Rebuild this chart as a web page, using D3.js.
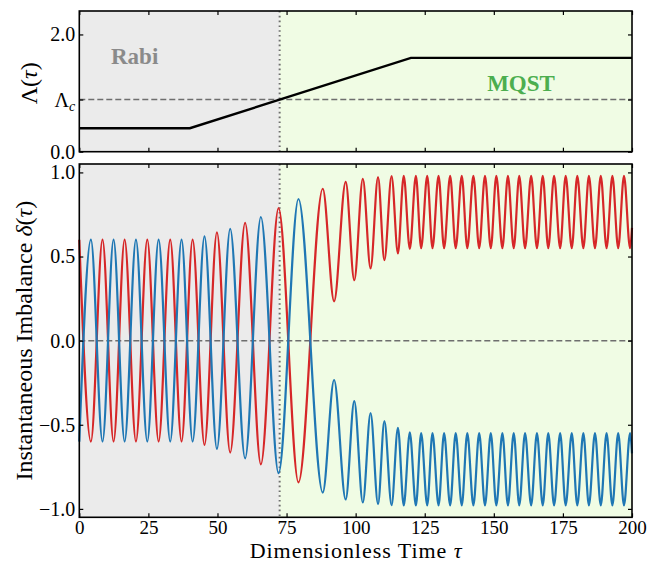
<!DOCTYPE html>
<html>
<head>
<meta charset="utf-8">
<script src="https://cdn.jsdelivr.net/npm/d3@7"></script>
<style>
  body { margin: 0; background: #ffffff; }
  svg text { font-family: "Liberation Serif", "Times New Roman", serif; }
</style>
</head>
<body>
<svg id="chart" width="662" height="563"></svg>
<script>
// Interaction schedule Λ(τ): breakpoints of the piecewise-linear ramp
const rampTau    = [0, 40, 120, 200];
const rampLambda = [0.4, 0.4, 1.6, 1.6];
const lambdaC = 0.89;   // critical interaction strength
const tauC = 72.5;      // time at which Λ(τ) crosses Λc

// Turning points of the two imbalance trajectories (shared time stamps)
const extremaTau = [
  0, 4.2, 8.4, 12.4, 16.4, 20.5, 24.6, 28.7, 32.9, 37.0,
  41.0, 45.3, 49.8, 54.6, 60.0, 65.7, 72.1, 79.3, 88.1, 92.2,
  96.4, 99.5, 102.6, 105.4, 108.1, 110.4, 113.0, 115.3, 117.4, 119.6,
  121.8, 123.7, 125.9, 127.8, 130.0, 132.0, 134.2, 136.2, 138.4, 140.4,
  142.6, 144.7, 146.8, 148.9, 150.9, 153.1, 155.1, 157.2, 159.2, 161.3,
  163.5, 165.6, 167.7, 169.7, 171.8, 174.0, 176.0, 178.2, 180.2, 182.4,
  184.4, 186.6, 188.7, 190.8, 192.9, 195.0, 197.1, 199.3, 200
];
const deltaRed = [
  0.60, -0.60, 0.60, -0.60, 0.60, -0.60, 0.60, -0.60, 0.60, -0.60,
  0.60, -0.62, 0.643, -0.665, 0.70, -0.735, 0.788, -0.842, 0.903, 0.234,
  0.944, 0.359, 0.962, 0.43, 0.972, 0.478, 0.978, 0.518, 0.98, 0.545,
  0.98, 0.55, 0.98, 0.55, 0.98, 0.55, 0.98, 0.55, 0.98, 0.55,
  0.98, 0.55, 0.98, 0.55, 0.98, 0.55, 0.98, 0.55, 0.98, 0.55,
  0.98, 0.55, 0.98, 0.55, 0.98, 0.55, 0.98, 0.55, 0.98, 0.55,
  0.98, 0.55, 0.98, 0.55, 0.98, 0.55, 0.98, 0.55, 0.67
];
const deltaBlue = [
  -0.60, 0.60, -0.60, 0.60, -0.60, 0.60, -0.60, 0.60, -0.60, 0.60,
  -0.60, 0.62, -0.643, 0.665, -0.70, 0.735, -0.788, 0.842, -0.903, -0.234,
  -0.944, -0.359, -0.962, -0.43, -0.972, -0.478, -0.978, -0.518, -0.98, -0.545,
  -0.98, -0.55, -0.98, -0.55, -0.98, -0.55, -0.98, -0.55, -0.98, -0.55,
  -0.98, -0.55, -0.98, -0.55, -0.98, -0.55, -0.98, -0.55, -0.98, -0.55,
  -0.98, -0.55, -0.98, -0.55, -0.98, -0.55, -0.98, -0.55, -0.98, -0.55,
  -0.98, -0.55, -0.98, -0.55, -0.98, -0.55, -0.98, -0.55, -0.67
];

const timeTicks   = [0, 25, 50, 75, 100, 125, 150, 175, 200];
const deltaTicks  = [-1, -0.5, 0, 0.5, 1];
const lambdaTicks = [0, lambdaC, 2];

const COLORS = {
  red: "#d62728", blue: "#1f77b4",
  rabiBg: "#ebebeb", mqstBg: "#f0fce4",
  guide: "#6e6e6e", rabiText: "#8a8a8a", mqstText: "#4cae4f"
};

const svg = d3.select("#chart");
const left = 79.3, right = 632;
const x = d3.scaleLinear().domain([0, 200]).range([left, right]);
const yTop = d3.scaleLinear().domain([0, 2.4]).range([151.7, 11]);
const yBot = d3.scaleLinear().domain([-1.05, 1.05]).range([517.3, 164]);

function panelBackground(y) {
  const [y0, y1] = y.range();
  svg.append("rect").attr("x", x(0)).attr("y", y1)
    .attr("width", x(tauC) - x(0)).attr("height", y0 - y1).attr("fill", COLORS.rabiBg);
  svg.append("rect").attr("x", x(tauC)).attr("y", y1)
    .attr("width", x(200) - x(tauC)).attr("height", y0 - y1).attr("fill", COLORS.mqstBg);
  svg.append("line").attr("x1", x(tauC)).attr("x2", x(tauC))
    .attr("y1", y1).attr("y2", y0)
    .attr("stroke", COLORS.guide).attr("stroke-width", 2)
    .attr("stroke-dasharray", "1.6,3.2");
}

function styleAxis(g, size) {
  g.select(".domain").remove();
  g.attr("font-family", null).attr("font-size", null);
  g.selectAll(".tick line").attr("stroke", "#000").attr("stroke-width", 1.2);
  g.selectAll(".tick text").attr("fill", "#000").style("font-size", size + "px");
}

function frame(y) {
  const [y0, y1] = y.range();
  svg.append("rect").attr("x", left).attr("y", y1)
    .attr("width", right - left).attr("height", y0 - y1)
    .attr("fill", "none").attr("stroke", "#000").attr("stroke-width", 1.6);
}

// ---------- top panel: Λ(τ) ----------
panelBackground(yTop);

svg.append("line")
  .attr("x1", x(0)).attr("x2", x(200))
  .attr("y1", yTop(lambdaC)).attr("y2", yTop(lambdaC))
  .attr("stroke", COLORS.guide).attr("stroke-width", 1.5)
  .attr("stroke-dasharray", "6,3");

svg.append("path")
  .datum(rampTau.map((t, i) => [t, rampLambda[i]]))
  .attr("fill", "none").attr("stroke", "#000").attr("stroke-width", 2.4)
  .attr("d", d3.line().x(d => x(d[0])).y(d => yTop(d[1])));

svg.append("text").attr("x", 111).attr("y", 64)
  .attr("fill", COLORS.rabiText).attr("font-weight", "bold")
  .style("font-size", "23px").text("Rabi");
svg.append("text").attr("x", 521).attr("y", 91).attr("text-anchor", "middle")
  .attr("fill", COLORS.mqstText).attr("font-weight", "bold")
  .style("font-size", "23px").text("MQST");

const fmt1 = d3.format(".1f");
const topLeft = svg.append("g").attr("transform", `translate(${left},0)`)
  .call(d3.axisLeft(yTop).tickValues(lambdaTicks).tickSizeInner(-4).tickSizeOuter(0)
    .tickPadding(4).tickFormat(d => d === lambdaC ? "" : fmt1(d)));
styleAxis(topLeft, 20);
const lcLabel = svg.append("text")
  .attr("x", left - 4).attr("y", yTop(lambdaC)).attr("dy", "0.38em")
  .attr("text-anchor", "end").style("font-size", "20px");
lcLabel.append("tspan").text("Λ");
lcLabel.append("tspan").attr("font-style", "italic").style("font-size", "14px")
  .attr("dy", "4").text("c");

styleAxis(svg.append("g").attr("transform", `translate(${right},0)`)
  .call(d3.axisRight(yTop).tickValues(lambdaTicks).tickSizeInner(-4).tickSizeOuter(0)
    .tickFormat("")), 20);
styleAxis(svg.append("g").attr("transform", `translate(0,${yTop.range()[0]})`)
  .call(d3.axisBottom(x).tickValues(timeTicks).tickSizeInner(-4).tickSizeOuter(0)
    .tickFormat("")), 20);
styleAxis(svg.append("g").attr("transform", `translate(0,${yTop.range()[1]})`)
  .call(d3.axisTop(x).tickValues(timeTicks).tickSizeInner(-4).tickSizeOuter(0)
    .tickFormat("")), 20);
frame(yTop);

const lamLabel = svg.append("text")
  .attr("transform", `translate(37,${(yTop.range()[0] + yTop.range()[1]) / 2 + 2}) rotate(-90)`)
  .attr("text-anchor", "middle").style("font-size", "24px");
lamLabel.append("tspan").text("Λ(");
lamLabel.append("tspan").attr("font-style", "italic").text("τ");
lamLabel.append("tspan").text(")");

// ---------- bottom panel: δ(τ) ----------
panelBackground(yBot);

svg.append("line")
  .attr("x1", x(0)).attr("x2", x(200))
  .attr("y1", yBot(0)).attr("y2", yBot(0))
  .attr("stroke", COLORS.guide).attr("stroke-width", 1.5)
  .attr("stroke-dasharray", "6,3");

const trace = d3.line().curve(d3.curveMonotoneX)
  .x(d => x(d[0])).y(d => yBot(d[1]));

svg.append("path")
  .datum(extremaTau.map((t, i) => [t, deltaRed[i]]))
  .attr("fill", "none").attr("stroke", COLORS.red).attr("stroke-width", 2.2)
  .attr("d", trace);
svg.append("path")
  .datum(extremaTau.map((t, i) => [t, deltaBlue[i]]))
  .attr("fill", "none").attr("stroke", COLORS.blue).attr("stroke-width", 2.2)
  .attr("d", trace);

styleAxis(svg.append("g").attr("transform", `translate(${left},0)`)
  .call(d3.axisLeft(yBot).tickValues(deltaTicks).tickSizeInner(-4).tickSizeOuter(0)
    .tickPadding(4).tickFormat(fmt1)), 20);
styleAxis(svg.append("g").attr("transform", `translate(${right},0)`)
  .call(d3.axisRight(yBot).tickValues(deltaTicks).tickSizeInner(-4).tickSizeOuter(0)
    .tickFormat("")), 20);
styleAxis(svg.append("g").attr("transform", `translate(0,${yBot.range()[0]})`)
  .call(d3.axisBottom(x).tickValues(timeTicks).tickSizeInner(-4).tickSizeOuter(0)
    .tickPadding(3).tickFormat(d3.format("d"))), 19);
styleAxis(svg.append("g").attr("transform", `translate(0,${yBot.range()[1]})`)
  .call(d3.axisTop(x).tickValues(timeTicks).tickSizeInner(-4).tickSizeOuter(0)
    .tickFormat("")), 20);
frame(yBot);

const xLabel = svg.append("text")
  .attr("x", (left + right) / 2).attr("y", 557.9)
  .attr("text-anchor", "middle").style("font-size", "22px")
  .attr("textLength", 212).attr("lengthAdjust", "spacing");
xLabel.append("tspan").text("Dimensionless Time ");
xLabel.append("tspan").attr("font-style", "italic").text("τ");

const yLabel = svg.append("text")
  .attr("transform", `translate(32,${(yBot.range()[0] + yBot.range()[1]) / 2}) rotate(-90)`)
  .attr("text-anchor", "middle").style("font-size", "24px");
yLabel.append("tspan").text("Instantaneous Imbalance ");
yLabel.append("tspan").attr("font-style", "italic").text("δ");
yLabel.append("tspan").text("(");
yLabel.append("tspan").attr("font-style", "italic").text("τ");
yLabel.append("tspan").text(")");
</script>
</body>
</html>
